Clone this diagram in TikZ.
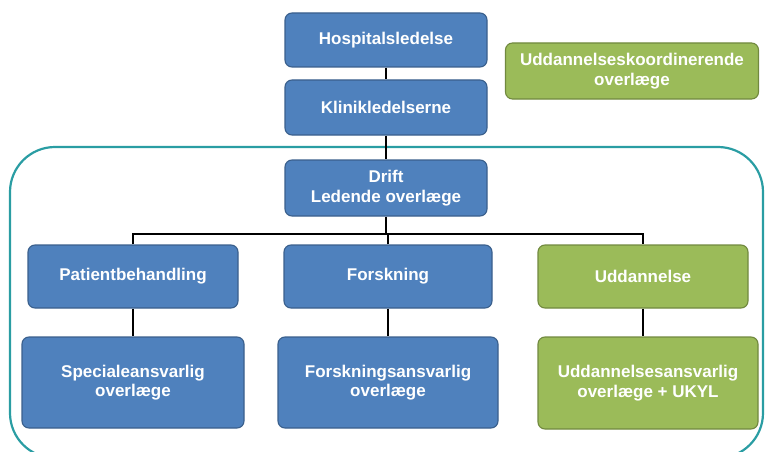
\documentclass[tikz,border=0pt]{standalone}
\usepackage{fontspec}
\setmainfont{Liberation Sans}
\definecolor{boxblue}{HTML}{4F81BD}
\definecolor{boxblueb}{HTML}{3A5F8C}
\definecolor{boxgreen}{HTML}{9BBB59}
\definecolor{boxgreenb}{HTML}{71893F}
\definecolor{tealline}{HTML}{2A9DA3}
\begin{document}
\begin{tikzpicture}[x=1pt,y=-1pt,
  box/.style={draw=boxblueb,fill=boxblue,line width=1.1pt,rounded corners=7pt,
    text=white,font=\bfseries\fontsize{17}{19.5}\selectfont,align=center,inner sep=0pt},
  gbox/.style={box,draw=boxgreenb,fill=boxgreen},
  link/.style={line width=2.5pt,black}]
\useasboundingbox (0,0) rectangle (766,452);
\draw[tealline,line width=2.2pt,rounded corners=45pt] (10,147) rectangle (763,458);
\node[box,minimum width=202pt,minimum height=54pt] (hl) at (386,40) {Hospitalsledelse};
\node[box,minimum width=202pt,minimum height=55pt] (kl) at (386,107.5) {Klinikledelserne};
\node[box,minimum width=202pt,minimum height=56pt] (dr) at (386,188) {Drift\\Ledende overlæge};
\node[gbox,minimum width=253pt,minimum height=56pt] (uk) at (632,71) {Uddannelseskoordinerende\\overlæge};
\node[box,minimum width=210pt,minimum height=63pt] (pb) at (133,276.5) {Patientbehandling};
\node[box,minimum width=208pt,minimum height=63pt] (fo) at (388,276.5) {Forskning};
\node[gbox,minimum width=210pt,minimum height=63pt] (ud) at (643,276.5) {Uddannelse};
\node[box,minimum width=222pt,minimum height=91pt] (sa) at (133,382.5) {Specialeansvarlig\\overlæge};
\node[box,minimum width=220pt,minimum height=91pt] (fa) at (388,382.5) {Forskningsansvarlig\\overlæge};
\node[gbox,minimum width=220pt,minimum height=92pt] (ua) at (648,383) {Uddannelsesansvarlig\\overlæge + UKYL};
\coordinate (bar) at (388,234);
\draw[link] (hl.south) -- (kl.north);
\draw[link] (kl.south) -- (dr.north);
\draw[link] (dr.south) -- (dr.south |- bar);
\draw[link] (pb.north) |- (bar) -| (ud.north);
\draw[link] (fo.north) -- (fo.north |- bar);
\draw[link] (pb.south) -- (sa.north);
\draw[link] (fo.south) -- (fa.north);
\draw[link] (ud.south) -- (ud.south |- ua.north);
\end{tikzpicture}
\end{document}
